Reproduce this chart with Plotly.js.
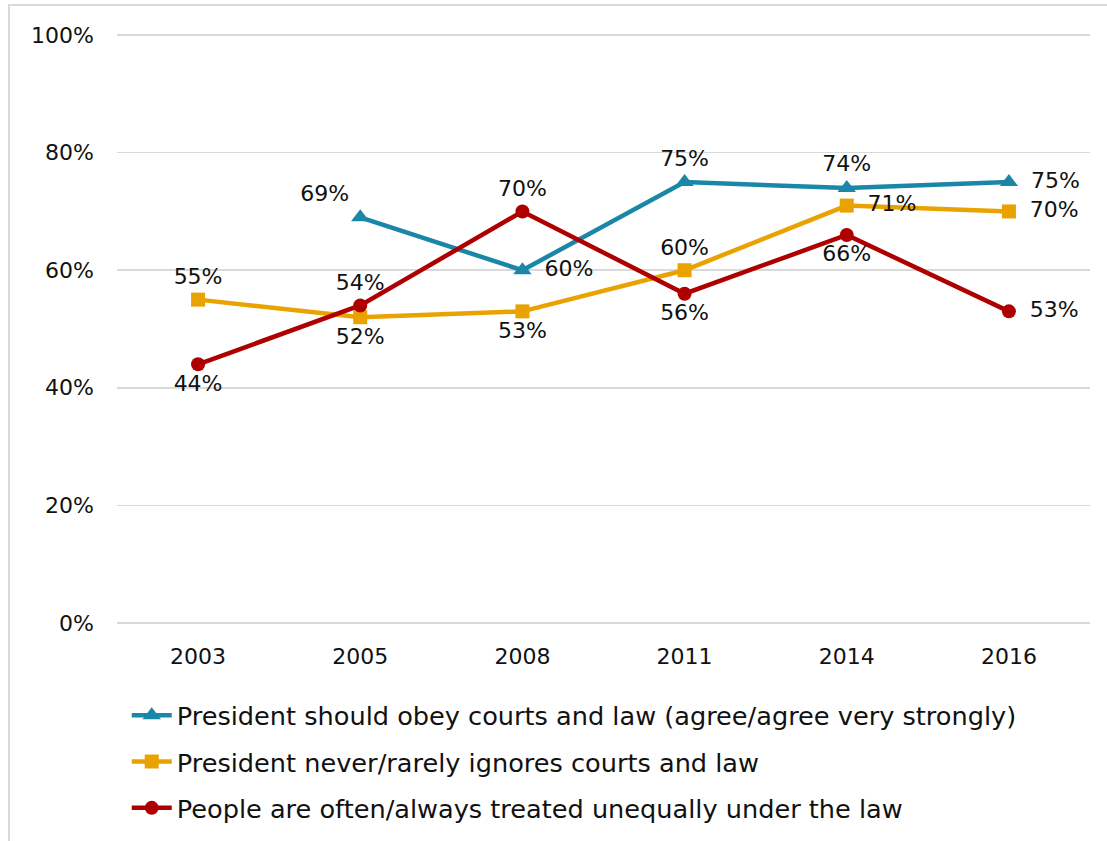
<!DOCTYPE html>
<html>
<head>
<meta charset="utf-8">
<script src="https://cdn.plot.ly/plotly-3.0.1.min.js"></script>
<style>html,body{margin:0;padding:0;background:#fff;}#chart{width:1107px;height:841px;}</style>
</head>
<body>
<div id="chart"></div>
<script>
const years = ['2003', '2005', '2008', '2011', '2014', '2016'];
const obeyCourts = [null, 69, 60, 75, 74, 75];
const neverIgnores = [55, 52, 53, 60, 71, 70];
const treatedUnequally = [44, 54, 70, 56, 66, 53];
const seriesNames = [
  'President should obey courts and law (agree/agree very strongly)',
  'President never/rarely ignores courts and law',
  'People are often/always treated unequally under the law'
];
const yTicks = [0, 20, 40, 60, 80, 100];

const FONT = 'DejaVu Sans, sans-serif';

function trace(name, y, color, symbol, size, pos, group) {
  return {
    type: 'scatter', mode: 'lines+markers+text',
    x: years, y: y, name: name, legendgroup: group,
    connectgaps: false,
    line: {color: color, width: 4.5},
    marker: {color: color, symbol: symbol, size: size},
    text: y.map((v, i) => v == null ? '' : (pos[i] === 'middle right' ? '\u2002' : '') + v + '%'),
    textposition: pos,
    textfont: {family: FONT, size: 22, color: '#111'},
    cliponaxis: false, hoverinfo: 'skip'
  };
}

const data = [
  trace(seriesNames[0], obeyCourts, '#1b87a8', 'triangle-up', 16,
        ['top center', 'top left', 'middle right', 'top center', 'top center', 'middle right'], 'a'),
  trace(seriesNames[1], neverIgnores, '#e9a200', 'square', 14,
        ['top center', 'bottom center', 'bottom center', 'top center', 'middle right', 'middle right'], 'b'),
  trace(seriesNames[2], treatedUnequally, '#ae0000', 'circle', 14,
        ['bottom center', 'top center', 'top center', 'bottom center', 'bottom center', 'middle right'], 'c')
];

const layout = {
  width: 1107, height: 841,
  margin: {l: 117, r: 17, t: 34, b: 217, autoexpand: false},
  paper_bgcolor: '#fff', plot_bgcolor: '#fff',
  font: {family: FONT, size: 22, color: '#111'},
  showlegend: true,
  legend: {
    orientation: 'v', x: 0.010, xanchor: 'left', y: -0.1155, yanchor: 'top',
    font: {family: FONT, size: 25.6, color: '#111'},
    tracegroupgap: 10, itemwidth: 40, bgcolor: 'rgba(0,0,0,0)'
  },
  xaxis: {
    type: 'category', categoryorder: 'array', categoryarray: years,
    range: [-0.5, 5.5], showgrid: false, zeroline: false, showline: false,
    ticks: '', ticklabelstandoff: 17, tickfont: {family: FONT, size: 22, color: '#111'}
  },
  yaxis: {
    range: [-0.2, 100.2], tickvals: yTicks, ticktext: yTicks.map(v => v + '%'),
    showgrid: true, gridcolor: '#d9d9d9', gridwidth: 1.5,
    zeroline: true, zerolinecolor: '#d9d9d9', zerolinewidth: 1.5, showline: false,
    ticks: '', ticklabelstandoff: 22, tickfont: {family: FONT, size: 22, color: '#111'}
  },
  shapes: [{
    type: 'rect', xref: 'paper', yref: 'paper', layer: 'below',
    x0: (9 - 117) / 973, x1: (1120 - 117) / 973,
    y0: -(860 - 624) / 590, y1: 1 + (34 - 5) / 590,
    line: {color: '#d9d9d9', width: 2}
  }],
  hovermode: false
};

Plotly.newPlot('chart', data, layout, {displayModeBar: false, staticPlot: true});
</script>
</body>
</html>
